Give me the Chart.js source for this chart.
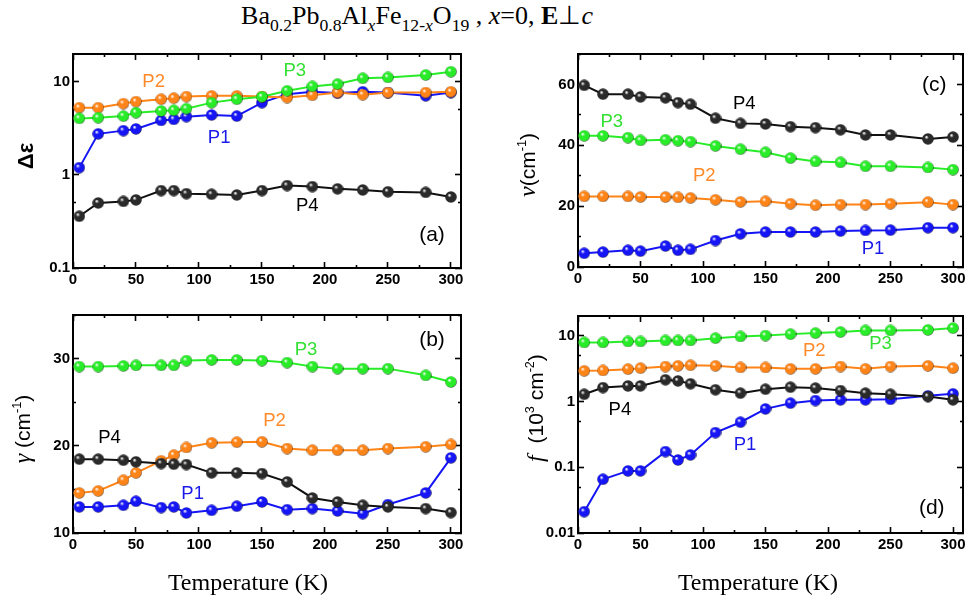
<!DOCTYPE html>
<html>
<head>
<meta charset="utf-8">
<script src="https://cdn.jsdelivr.net/npm/chart.js@4.4.1/dist/chart.umd.min.js"></script>
<style>
  body { margin: 0; background: #fff; }
  #page { position: relative; width: 971px; height: 603px; overflow: hidden; background: #fff; }
  canvas { position: absolute; }
  #ttl { position: absolute; left: 417px; top: 0px; transform: translateX(-50%); white-space: nowrap;
         font-family: 'Liberation Serif', 'Times New Roman', serif; font-size: 26px; color: #000; }
  #ttl sub { font-size: 0.68em; vertical-align: -0.38em; line-height: 0; }
  .yt { position: absolute; transform: translate(-50%, -50%) rotate(-90deg); white-space: nowrap;
        font-family: 'Liberation Sans', Arial, sans-serif; font-size: 21px; color: #000; }
  .yt sup { font-size: 0.6em; vertical-align: 0.7em; line-height: 0; }
  .yt .g { font-family: 'Liberation Serif', 'Times New Roman', serif; font-style: italic; font-size: 24px; }
  .xt { position: absolute; transform: translate(-50%, -50%); white-space: nowrap;
        font-family: 'Liberation Serif', 'Times New Roman', serif; font-size: 24px; color: #000; }
</style>
</head>
<body>
<div id="page">
  <div id="ttl">Ba<sub>0.2</sub>Pb<sub>0.8</sub>Al<sub><i>x</i></sub>Fe<sub>12-<i>x</i></sub>O<sub>19</sub> , <i>x</i>=0, <b>E</b>&perp;<i>c</i></div>
  <canvas id="pa" width="480" height="260" style="left:0;top:40px"></canvas>
  <canvas id="pb" width="480" height="303" style="left:0;top:300px"></canvas>
  <canvas id="pc" width="491" height="260" style="left:480px;top:40px"></canvas>
  <canvas id="pd" width="491" height="303" style="left:480px;top:300px"></canvas>
  <div class="yt" style="left:26px;top:156px;font-weight:bold;font-size:22px">&Delta;&epsilon;</div>
  <div class="yt" style="left:22px;top:429px"><span class="g">&gamma;</span> (cm<sup>-1</sup>)</div>
  <div class="yt" style="left:527px;top:165px"><span class="g">&nu;</span>(cm<sup>-1</sup>)</div>
  <div class="yt" style="left:535px;top:408px"><span class="g">f</span>&nbsp; (10<sup>3</sup> cm<sup>-2</sup>)</div>
  <div class="xt" style="left:248px;top:582px">Temperature (K)</div>
  <div class="xt" style="left:758px;top:582px">Temperature (K)</div>
</div>
<script>
// temperatures (K)
const temps = [5, 20, 40, 50, 70, 80, 90, 110, 130, 150, 170, 190, 210, 230, 250, 280, 300];

// (a) oscillator strength delta eps
const epsP1 = [1.20, 2.77, 3.00, 3.13, 3.86, 3.96, 4.24, 4.42, 4.30, 6.00, 7.40, 7.85, 7.60, 7.85, 7.70, 7.10, 7.70];
const epsP2 = [5.30, 5.30, 5.86, 6.16, 6.53, 6.70, 6.98, 7.10, 7.10, 6.98, 6.80, 7.20, 7.70, 7.30, 7.70, 7.70, 7.85];
const epsP3 = [4.06, 4.13, 4.30, 4.68, 4.88, 4.96, 5.17, 6.00, 6.53, 6.93, 8.05, 8.97, 9.50, 10.96, 11.2, 11.9, 12.9];
const epsP4 = [0.36, 0.50, 0.52, 0.54, 0.68, 0.68, 0.63, 0.62, 0.61, 0.68, 0.77, 0.75, 0.71, 0.69, 0.66, 0.65, 0.58];

// (b) damping gamma (cm-1)
const gamP1 = [12.99, 12.99, 13.18, 13.64, 12.91, 12.99, 12.30, 12.60, 13.07, 13.56, 12.68, 12.80, 12.53, 12.22, 13.26, 14.60, 18.62];
const gamP2 = [14.60, 14.83, 16.05, 16.90, 18.28, 18.93, 19.81, 20.34, 20.42, 20.46, 19.69, 19.50, 19.50, 19.50, 19.69, 19.89, 20.15];
const gamP3 = [29.08, 29.08, 29.16, 29.23, 29.23, 29.23, 29.77, 29.85, 29.85, 29.77, 29.54, 29.08, 28.85, 28.85, 28.85, 28.08, 27.32];
const gamP4 = [18.47, 18.47, 18.35, 18.16, 17.97, 17.89, 17.85, 16.90, 16.90, 16.82, 15.86, 14.02, 13.56, 13.18, 12.99, 12.80, 12.34];

// (c) frequency nu (cm-1)
const nuP1 = [4.5, 4.9, 5.5, 5.2, 6.9, 5.5, 5.8, 8.7, 10.9, 11.5, 11.5, 11.5, 11.8, 12.0, 12.1, 12.9, 12.9];
const nuP2 = [23.2, 23.2, 23.2, 23.0, 23.0, 22.9, 22.7, 22.1, 21.4, 21.6, 20.8, 20.3, 20.5, 20.5, 20.8, 21.3, 20.5];
const nuP3 = [43.1, 43.1, 42.5, 41.6, 41.8, 41.5, 41.2, 39.8, 38.7, 37.7, 35.8, 34.7, 34.4, 33.1, 33.1, 32.7, 32.0];
const nuP4 = [59.7, 56.8, 56.8, 55.9, 55.6, 54.0, 53.5, 48.9, 47.2, 47.0, 46.1, 45.8, 45.1, 43.4, 43.4, 42.1, 42.7];

// (d) f (10^3 cm-2)
const fP1 = [0.0211, 0.0656, 0.088, 0.088, 0.173, 0.129, 0.154, 0.337, 0.484, 0.773, 0.944, 1.035, 1.06, 1.06, 1.08, 1.22, 1.31];
const fP2 = [2.93, 2.97, 3.11, 3.22, 3.41, 3.49, 3.57, 3.49, 3.30, 3.30, 3.14, 3.14, 3.41, 3.14, 3.41, 3.49, 3.22];
const fP3 = [7.91, 7.91, 8.20, 8.20, 8.49, 8.49, 8.49, 9.20, 9.77, 10.1, 10.6, 11.0, 11.4, 12.05, 12.05, 12.3, 13.1];
const fP4 = [1.29, 1.63, 1.73, 1.73, 2.14, 2.06, 1.86, 1.51, 1.34, 1.54, 1.65, 1.60, 1.47, 1.34, 1.29, 1.19, 1.06];

const logTicksA = [0.1, 0.5, 1, 5, 10];
const logTicksD = [0.01, 0.05, 0.1, 0.5, 1, 5, 10];

const COL = { P1: '#1515f5', P2: '#ff8418', P3: '#28ec28', P4: '#111111' };
const TXT = { P1: '#1a1ae8', P2: '#ff8a2a', P3: '#33e033', P4: '#000000' };

// shaded ball for the markers
function ball(color) {
  const c = document.createElement('canvas');
  c.width = c.height = 12;
  const g = c.getContext('2d');
  const grd = g.createRadialGradient(4.3, 4.0, 0.3, 6, 6, 6.2);
  grd.addColorStop(0, '#ffffff');
  grd.addColorStop(0.3, color);
  grd.addColorStop(0.8, color);
  grd.addColorStop(1, 'rgba(0,0,0,0.8)');
  g.fillStyle = grd;
  g.beginPath();
  g.arc(6, 6, 5.8, 0, Math.PI * 2);
  g.fill();
  return c;
}
const BALL = { P1: ball(COL.P1), P2: ball(COL.P2), P3: ball(COL.P3), P4: ball('#2a2a2a') };

function series(name, data, order) {
  return {
    label: name,
    data: temps.map((t, i) => ({ x: t, y: data[i] })),
    borderColor: COL[name],
    borderWidth: 2,
    pointStyle: BALL[name],
    pointRadius: 6,
    order: order
  };
}

// text labels inside the plots (data coords)
const textPlugin = {
  id: 'txt',
  afterDatasetsDraw(chart, args, opts) {
    const ctx = chart.ctx, xs = chart.scales.x, ys = chart.scales.y;
    ctx.save();
    ctx.textAlign = 'center';
    ctx.textBaseline = 'middle';
    (opts.items || []).forEach(it => {
      ctx.fillStyle = it.c;
      ctx.font = (it.s || 18.5) + 'px "Liberation Sans", Arial, sans-serif';
      ctx.fillText(it.t, xs.getPixelForValue(it.x), ys.getPixelForValue(it.y));
    });
    ctx.restore();
  }
};

const tickFont = { family: 'Liberation Sans', weight: 'bold', size: 15 };
// minor ticks drawn shorter; line direction differs by side
const minorDash = (side, isMinor) => {
  if (!isMinor) return [];
  return (side === 'bottom' || side === 'right') ? [4, 30] : [0, 3, 4, 30];
};

// fixed box size, no extra label padding pushed into the layout
const fixBox = (dim, size) => s => {
  s[dim] = size;
  s.paddingTop = s.paddingBottom = s.paddingLeft = s.paddingRight = 0;
};

function xAxis(side, showLabels, bh) {
  return {
    type: 'linear', position: side, min: 0, max: 308,
    afterFit: fixBox('height', bh),
    ticks: {
      stepSize: 25, includeBounds: false, autoSkip: false, maxRotation: 0,
      color: '#000', font: tickFont, padding: 9,
      callback: v => (showLabels && v % 50 === 0) ? String(v) : ''
    },
    grid: {
      drawOnChartArea: false, tickLength: -6, tickColor: '#000', tickWidth: 1.6,
      tickBorderDash: c => minorDash(side, c.tick && c.tick.value % 50 !== 0)
    },
    border: { display: true, color: '#000', width: 2 },
    title: { display: false }
  };
}

function yAxis(side, cfg, showLabels, bw) {
  const o = {
    type: cfg.log ? 'logarithmic' : 'linear', position: side, min: cfg.min, max: cfg.max,
    afterFit: fixBox('width', bw),
    ticks: {
      color: '#000', font: tickFont, padding: 9, autoSkip: false,
      callback: v => (showLabels && cfg.isMajor(v)) ? cfg.fmt(v) : ''
    },
    grid: {
      drawOnChartArea: false, tickLength: -6, tickColor: '#000', tickWidth: 1.6,
      tickBorderDash: c => minorDash(side, c.tick && !cfg.isMajor(c.tick.value))
    },
    border: { display: true, color: '#000', width: 2 }
  };
  if (cfg.log) {
    o.afterBuildTicks = s => { s.ticks = cfg.ticks.map(v => ({ value: v })); };
  } else {
    o.ticks.stepSize = cfg.step;
  }
  return o;
}

function panel(id, p) {
  new Chart(document.getElementById(id), {
    type: 'line',
    data: {
      datasets: [
        series('P3', p.d[2], 0),
        series('P4', p.d[3], 1),
        series('P2', p.d[1], 2),
        series('P1', p.d[0], 3)
      ]
    },
    options: {
      responsive: false, animation: false, devicePixelRatio: 1,
      layout: { padding: 0 },
      plugins: { legend: { display: false }, tooltip: { enabled: false }, txt: { items: p.labels } },
      scales: {
        x: xAxis('bottom', true, p.bottom),
        x2: xAxis('top', false, p.top),
        y: yAxis('left', p.y, true, p.left),
        y2: yAxis('right', p.y, false, p.right)
      }
    },
    plugins: [textPlugin]
  });
}

const isDecade = v => Math.abs(Math.log10(v) - Math.round(Math.log10(v))) < 1e-6;

panel('pa', {
  d: [epsP1, epsP2, epsP3, epsP4], left: 73, right: 19, top: 14, bottom: 32,
  y: { log: true, min: 0.1, max: 20, ticks: logTicksA, isMajor: isDecade, fmt: v => String(v) },
  labels: [
    { t: 'P2', x: 64, y: 9.9, c: TXT.P2 },
    { t: 'P3', x: 176, y: 13.3, c: TXT.P3 },
    { t: 'P1', x: 116, y: 2.5, c: TXT.P1 },
    { t: 'P4', x: 186, y: 0.46, c: TXT.P4 },
    { t: '(a)', x: 285, y: 0.223, c: '#000', s: 21 }
  ]
});

panel('pb', {
  d: [gamP1, gamP2, gamP3, gamP4], left: 73, right: 19, top: 15, bottom: 70,
  y: { log: false, min: 10, max: 35, step: 5, isMajor: v => v % 10 === 0, fmt: v => String(v) },
  labels: [
    { t: 'P3', x: 185, y: 30.96, c: TXT.P3 },
    { t: 'P2', x: 160, y: 22.9, c: TXT.P2 },
    { t: 'P4', x: 29, y: 20.96, c: TXT.P4 },
    { t: 'P1', x: 95, y: 14.5, c: TXT.P1 },
    { t: '(b)', x: 285, y: 32.1, c: '#000', s: 21 }
  ]
});

panel('pc', {
  d: [nuP1, nuP2, nuP3, nuP4], left: 98, right: 8, top: 14, bottom: 33,
  y: { log: false, min: 0, max: 70, step: 10, isMajor: v => v % 20 === 0, fmt: v => String(v) },
  labels: [
    { t: 'P4', x: 133, y: 53.5, c: TXT.P4 },
    { t: 'P3', x: 27, y: 47.6, c: TXT.P3 },
    { t: 'P2', x: 101, y: 29.8, c: TXT.P2 },
    { t: 'P1', x: 236, y: 5.8, c: TXT.P1 },
    { t: '(c)', x: 285, y: 59.8, c: '#000', s: 21 }
  ]
});

panel('pd', {
  d: [fP1, fP2, fP3, fP4], left: 98, right: 8, top: 16, bottom: 70,
  y: { log: true, min: 0.01, max: 20, ticks: logTicksD, isMajor: isDecade, fmt: v => String(v) },
  labels: [
    { t: 'P3', x: 242, y: 7.47, c: TXT.P3 },
    { t: 'P2', x: 189, y: 5.84, c: TXT.P2 },
    { t: 'P4', x: 33.5, y: 0.755, c: TXT.P4 },
    { t: 'P1', x: 133.6, y: 0.219, c: TXT.P1 },
    { t: '(d)', x: 283, y: 0.0238, c: '#000', s: 21 }
  ]
});
</script>
</body>
</html>
